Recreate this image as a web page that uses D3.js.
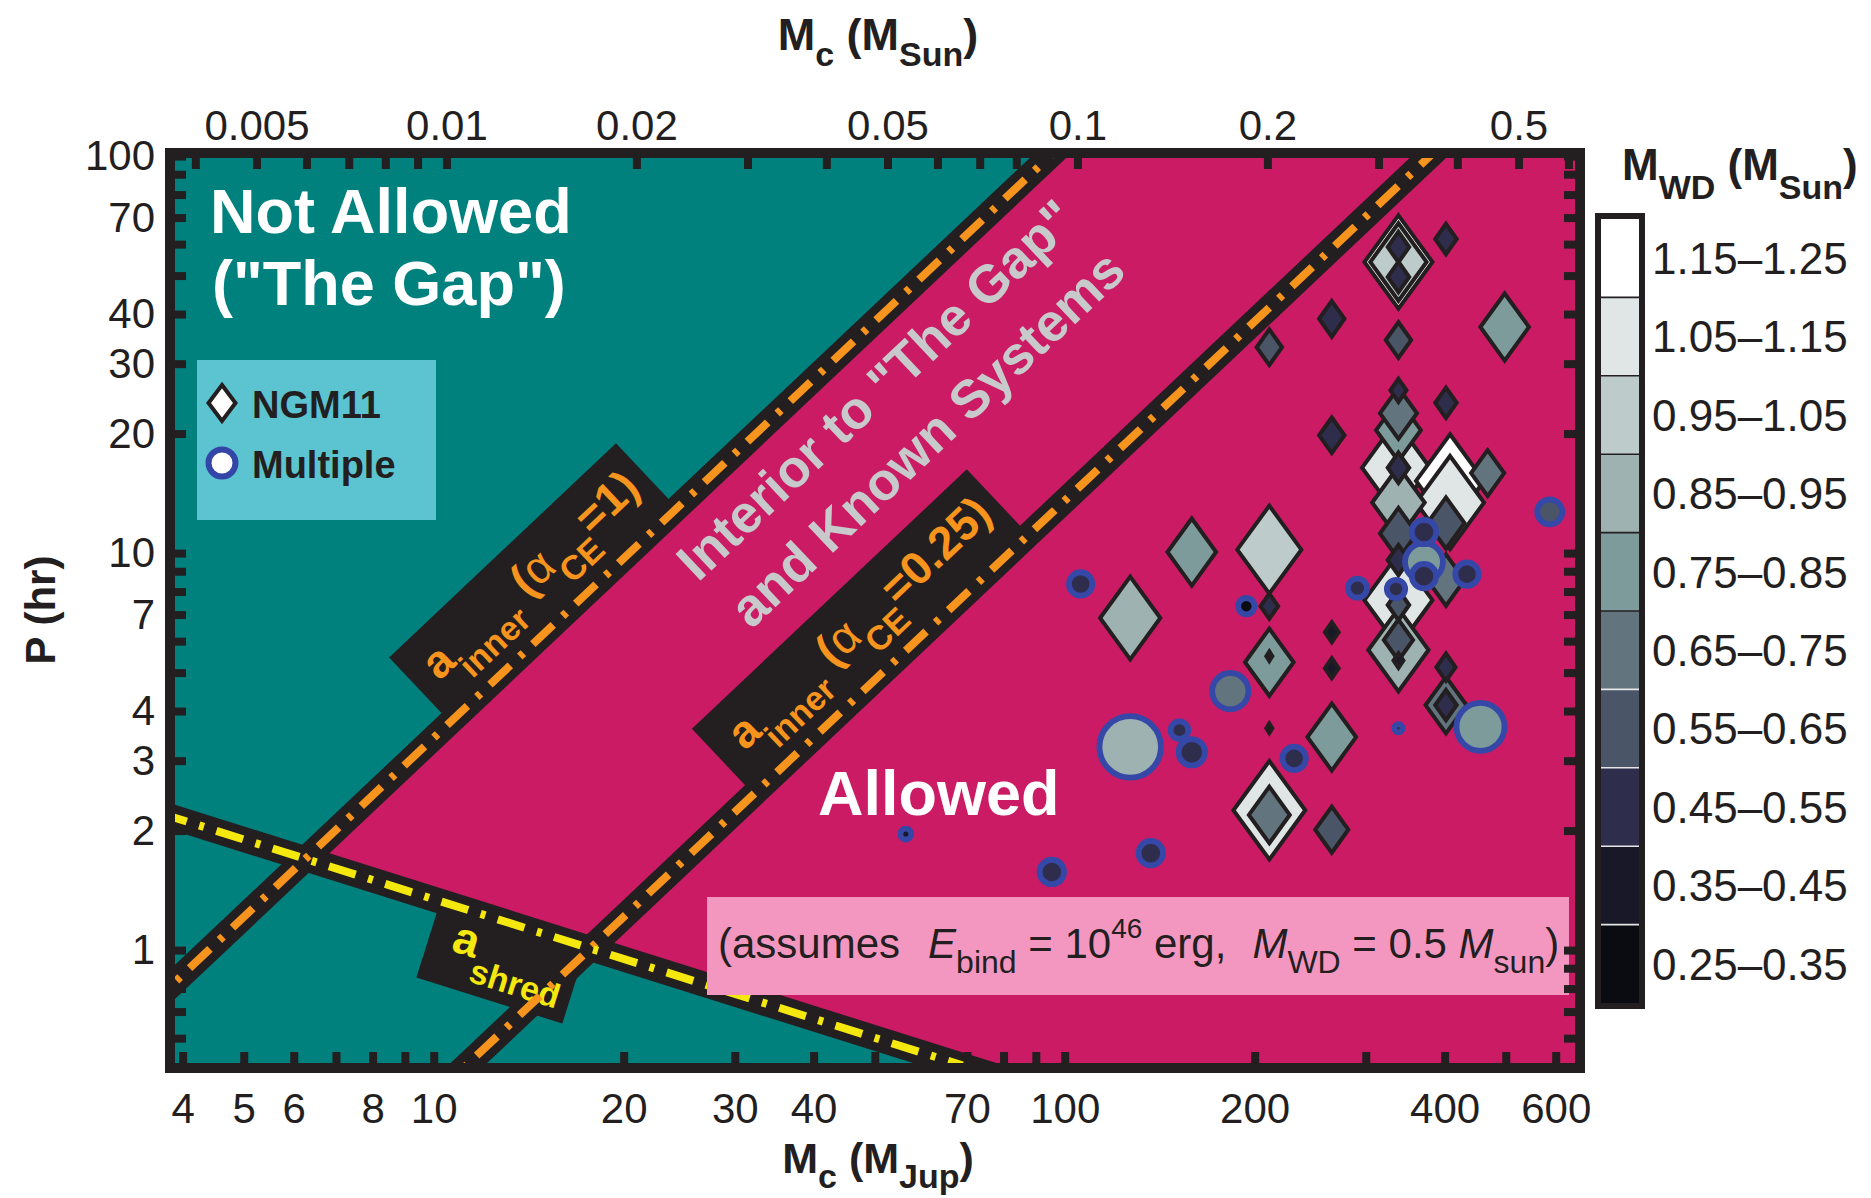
<!DOCTYPE html>
<html><head><meta charset="utf-8">
<script src="https://cdn.jsdelivr.net/npm/d3@7"></script>
<style>
body{margin:0;background:#fff;}
svg{display:block;font-family:"Liberation Sans",Arial,Helvetica,sans-serif;}
</style></head><body>
<svg id="c" width="1871" height="1198"></svg>
<script>
// ---------------- DATA ----------------
const xDomainJup = [3.82, 655.6];           // companion mass, M_Jup
const yDomainHr = [0.5046, 101.8];          // period, hr
const jupPerSun = 1047.57;

const bottomTicks = [4,5,6,7,8,9,10,20,30,40,50,60,70,80,90,100,200,300,400,500,600];
const bottomLabels = [4,5,6,8,10,20,30,40,70,100,200,400,600];
const topTicks = [0.004,0.005,0.006,0.007,0.008,0.009,0.01,0.02,0.03,0.04,0.05,0.06,0.07,0.08,0.09,0.1,0.2,0.3,0.4,0.5,0.6];
const topLabels = [0.005,0.01,0.02,0.05,0.1,0.2,0.5];
const yTicks = [0.6,0.7,0.8,0.9,1,2,3,4,5,6,7,8,9,10,20,30,40,50,60,70,80,90,100];
const yLabels = [1,2,3,4,7,10,20,30,40,70,100];

// white-dwarf mass bins (colour bar), top to bottom
const mwdBinLabels = ["1.15–1.25","1.05–1.15","0.95–1.05","0.85–0.95","0.75–0.85","0.65–0.75","0.55–0.65","0.45–0.55","0.35–0.45","0.25–0.35"];
const mwdBinCenters = [1.2,1.1,1.0,0.9,0.8,0.7,0.6,0.5,0.4,0.3];
const mwdColors = ["#ffffff","#dfe6e5","#bdcccb","#9db2b1","#7c9b9a","#62747e","#4a5568","#2f2d4c","#181829","#0b0b12"];

// boundary lines [M_Jup, P_hr] end points
const aInnerAlpha1   = [[3, 0.563],[120, 142.5]];
const aInnerAlpha025 = [[10, 0.4285],[500, 151.5]];
const aShred         = [[3, 2.452],[90, 0.448]];

// NGM11 systems: [M_c (M_Jup), P (hr), M_WD (M_sun), size]
const ngm11 = [
 [338,54.1,1.2,9],[338,54.1,1.0,7.5],[338,59.0,0.5,3],[338,49.6,0.5,3],[402,61.8,0.5,3],
 [265,38.9,0.5,3.5],[211,33.0,0.6,3.5],[338,34.4,0.6,3.5],[498,37.1,0.8,6.5],
 [338,25.7,0.5,2.3],[402,23.9,0.5,3],[265,19.8,0.5,3.5],[338,22.5,0.7,5],[338,20.4,0.8,6],
 [335,16.4,1.1,9],[338,16.4,0.5,3],[408,15.2,1.2,9],[408,13.4,1.1,9],[468,15.9,0.7,4.5],
 [338,13.4,0.9,7],[402,11.9,0.6,5],[338,11.2,0.6,5],[338,9.6,0.5,3],[402,8.55,0.7,5],
 [338,7.61,1.1,9],[338,7.40,0.6,3],
 [159,10.06,0.8,6.5],[211,10.2,1.0,8.5],[127,6.86,0.9,8],[211,7.35,0.5,2.5],
 [265,6.32,0.4,2],[265,5.13,0.4,2],[211,5.31,0.8,6.5],[211,5.5,0.4,1],[211,3.62,0.4,1],
 [265,3.44,0.8,6.5],[402,5.16,0.5,2.7],[402,4.14,0.7,5.5],[402,4.14,0.5,3],
 [338,5.70,0.9,8],[338,6.04,0.6,4],[338,5.36,0.4,1.5],
 [211,2.25,1.1,9.5],[211,2.19,0.7,5.5],[265,2.01,0.6,4.5]
];
// Multiple systems: [M_c (M_Jup), P (hr), M_WD (M_sun), size]
const multiple = [
 [587,12.7,0.6,3.5],[371,11.3,0.5,3.4],[106,8.36,0.5,3.25],[194,7.35,0.3,2.2],
 [183,4.49,0.7,5.15],[127,3.25,0.9,8.9],[152,3.58,0.5,2.4],[159,3.15,0.5,3.7],
 [231,3.04,0.5,3.25],[338,3.62,0.5,1],[456,3.65,0.8,6.9],[371,9.49,0.8,5.4],
 [371,8.75,0.5,3.4],[434,8.85,0.5,3.25],[291,8.16,0.5,2.6],[335,8.12,0.5,2.5],
 [56,1.96,0.4,1.4],[95.4,1.573,0.5,3.4],[136.9,1.755,0.5,3.4]
];

// ---------------- LAYOUT ----------------
const ink = "#231f20";
const teal = "#00817e", magenta = "#cb1b64", orange = "#f7941d", yellow = "#f4e80f";
const box = {left:170, right:1580, top:153, bottom:1068};
const svg = d3.select("#c");

const x = d3.scaleLog().domain(xDomainJup).range([box.left, box.right]);
const xSun = d3.scaleLog().domain(xDomainJup.map(v => v / jupPerSun)).range([box.left, box.right]);
const y = d3.scaleLog().domain(yDomainHr).range([box.bottom, box.top]);
const color = d3.scaleThreshold().domain([0.35,0.45,0.55,0.65,0.75,0.85,0.95,1.05,1.15]).range(mwdColors.slice().reverse());
const dHalf = d3.scaleLinear().domain([1,9]).range([5,36]);
const cRad = d3.scaleLinear().domain([1,9]).range([7,34]);

const L = Math.log10;
function lineFn(pts){
  const [[m1,p1],[m2,p2]] = pts;
  const k = (L(p2)-L(p1))/(L(m2)-L(m1));
  return {k, b: L(p1) - k*L(m1), f: m => Math.pow(10, L(p1) + k*(L(m)-L(m1)))};
}
const l1 = lineFn(aInnerAlpha1), l2 = lineFn(aInnerAlpha025), ls = lineFn(aShred);
function angleOf(pts){
  const [a,b] = pts;
  return Math.atan2(y(b[1])-y(a[1]), x(b[0])-x(a[0])) * 180/Math.PI;
}

const defs = svg.append("defs");
defs.append("clipPath").attr("id","pc").append("rect")
  .attr("x",box.left+5).attr("y",box.top+5).attr("width",box.right-box.left-10).attr("height",box.bottom-box.top-10);

const plot = svg.append("g").attr("clip-path","url(#pc)");
plot.append("rect").attr("x",box.left).attr("y",box.top).attr("width",box.right-box.left).attr("height",box.bottom-box.top).attr("fill",teal);

// allowed region: below a_inner(alpha=1), above a_shred
const lmI = (ls.b - l1.b)/(l1.k - ls.k);
const inter = [Math.pow(10,lmI), Math.pow(10, l1.b + l1.k*lmI)];
const poly = [inter, aInnerAlpha1[1], [1e4, aInnerAlpha1[1][1]], [1e4, 0.2], aShred[1]];
plot.append("path").attr("d", d3.line().x(d=>x(d[0])).y(d=>y(d[1]))(poly)+"Z").attr("fill", magenta);

const lineGen = d3.line().x(d=>x(d[0])).y(d=>y(d[1]));
const lines = [
  {pts:aInnerAlpha1, col:orange},
  {pts:aInnerAlpha025, col:orange},
  {pts:aShred, col:yellow}
];
plot.selectAll("path.band").data(lines).join("path").attr("class","band")
  .attr("d", d=>lineGen(d.pts)).attr("stroke", ink).attr("stroke-width", 25).attr("fill","none");

// label boxes
function labelGroup(fn, pts, m0){
  const a = angleOf(pts);
  return plot.append("g").attr("transform", `translate(${x(m0)},${y(fn.f(m0))}) rotate(${a})`);
}
const g1 = labelGroup(l1, aInnerAlpha1, 10.26);
const g2 = labelGroup(l2, aInnerAlpha025, 31.3);
const g3 = labelGroup(ls, aShred, 10.07);
g1.append("rect").attr("x",13).attr("y",-89).attr("width",312).attr("height",89).attr("fill",ink);
g2.append("rect").attr("x",10).attr("y",-90).attr("width",378).attr("height",90).attr("fill",ink);
g3.append("rect").attr("x",5).attr("y",0).attr("width",153).attr("height",80).attr("fill",ink);

plot.selectAll("path.dash").data(lines).join("path").attr("class","dash")
  .attr("d", d=>lineGen(d.pts)).attr("stroke", d=>d.col).attr("stroke-width", 8)
  .attr("stroke-dasharray","28,13,5,13").attr("fill","none");

function innerLabel(g, val){
  const t = g.append("text").attr("x",33).attr("y",-37).attr("fill",orange)
    .attr("font-weight","bold").attr("font-size",46);
  t.append("tspan").text("a");
  t.append("tspan").attr("font-size",34).attr("dy",21).text("inner");
  t.append("tspan").attr("dy",-21).text(" (");
  t.append("tspan").attr("font-weight","normal").text("α");
  t.append("tspan").attr("font-size",34).attr("dy",21).text("CE");
  t.append("tspan").attr("dy",-21).text("="+val+")");
}
innerLabel(g1,"1");
innerLabel(g2,"0.25");
{
  const t = g3.append("text").attr("x",29).attr("y",44).attr("fill",yellow).attr("font-weight","bold").attr("font-size",46);
  t.append("tspan").text("a");
  t.append("tspan").attr("font-size",34).attr("dy",24).text("shred");
}

// region annotations
const a1 = angleOf(aInnerAlpha1);
const interior = plot.append("g").attr("fill","#c8c9cb").attr("font-weight","bold").attr("font-size",53).attr("text-anchor","middle");
interior.append("text").attr("transform",`translate(${x(52.6)},${y(23.87)}) rotate(${a1})`).text('Interior to "The Gap"');
interior.append("text").attr("transform",`translate(${x(63.4)},${y(17.97)}) rotate(${a1})`).text("and Known Systems");

const white = plot.append("g").attr("fill","#fff").attr("font-weight","bold").attr("font-size",63);
white.append("text").attr("x",box.left+40).attr("y",box.top+80).text("Not Allowed");
white.append("text").attr("x",box.left+42).attr("y",box.top+152).text('("The Gap")');
white.append("text").attr("x",box.left+648).attr("y",box.top+662).text("Allowed");

// legend
const lg = plot.append("g");
lg.append("rect").attr("x",box.left+27).attr("y",box.top+207).attr("width",239).attr("height",160).attr("fill","#5bc4d0");
lg.append("path").attr("d",`M${box.left+52},${box.top+250-18} l13.5,18 l-13.5,18 l-13.5,-18 Z`).attr("fill","#fff").attr("stroke",ink).attr("stroke-width",4);
lg.append("circle").attr("cx",box.left+52).attr("cy",box.top+310).attr("r",13.5).attr("fill","#fff").attr("stroke","#3346a7").attr("stroke-width",6);
lg.append("text").attr("x",box.left+82).attr("y",box.top+265).attr("font-weight","bold").attr("font-size",38).attr("fill",ink).text("NGM11");
lg.append("text").attr("x",box.left+82).attr("y",box.top+325).attr("font-weight","bold").attr("font-size",38).attr("fill",ink).text("Multiple");

// assumption box
const ab = plot.append("g");
ab.append("rect").attr("x",707).attr("y",897).attr("width",862).attr("height",98).attr("fill","#f497c0");
{
  const t = ab.append("text").attr("x",718).attr("y",958).attr("font-size",42).attr("fill",ink);
  t.append("tspan").text("(assumes");
  t.append("tspan").attr("dx",28).attr("font-style","italic").text("E");
  t.append("tspan").attr("font-size",32).attr("dy",15).text("bind");
  t.append("tspan").attr("dy",-15).text(" = 10");
  t.append("tspan").attr("font-size",28).attr("dy",-20).text("46");
  t.append("tspan").attr("dy",20).text(" erg,");
  t.append("tspan").attr("dx",26).attr("font-style","italic").text("M");
  t.append("tspan").attr("font-size",32).attr("dy",15).text("WD");
  t.append("tspan").attr("dy",-15).text(" = 0.5 ");
  t.append("tspan").attr("font-style","italic").text("M");
  t.append("tspan").attr("font-size",32).attr("dy",15).text("sun");
  t.append("tspan").attr("dy",-15).text(")");
}

// markers
const diamonds = ngm11.map(d=>({m:d[0],p:d[1],w:d[2],s:d[3]})).sort((a,b)=>b.s-a.s);
plot.selectAll("path.ngm").data(diamonds).join("path").attr("class","ngm")
  .attr("transform", d=>`translate(${x(d.m)},${y(d.p)})`)
  .attr("d", d=>{ const hw=dHalf(d.s)-2, hh=dHalf(d.s)*1.35-2; return `M0,${-hh}L${hw},0L0,${hh}L${-hw},0Z`; })
  .attr("fill", d=>color(d.w)).attr("stroke", ink).attr("stroke-width",4).attr("stroke-linejoin","miter");
const circles = multiple.map(d=>({m:d[0],p:d[1],w:d[2],s:d[3]})).sort((a,b)=>b.s-a.s);
plot.selectAll("circle.mult").data(circles).join("circle").attr("class","mult")
  .attr("cx", d=>x(d.m)).attr("cy", d=>y(d.p)).attr("r", d=>cRad(d.s)-2.9)
  .attr("fill", d=>color(d.w)).attr("stroke","#3548a8").attr("stroke-width",5.8);

// ---------------- AXES ----------------
function styleAxis(g){
  g.select(".domain").remove();
  g.selectAll(".tick line").attr("stroke",ink).attr("stroke-width",8);
  g.selectAll(".tick text").attr("fill",ink).attr("font-size",42).attr("font-family","Liberation Sans, Arial, sans-serif");
}
svg.append("g").attr("transform",`translate(0,${box.bottom})`)
  .call(d3.axisBottom(x).tickValues(bottomTicks).tickSizeInner(-16).tickSizeOuter(0).tickPadding(25)
    .tickFormat(d=>bottomLabels.includes(d)?d:"")).call(styleAxis);
svg.append("g").attr("transform",`translate(0,${box.top})`)
  .call(d3.axisTop(xSun).tickValues(topTicks).tickSizeInner(-16).tickSizeOuter(0).tickPadding(13)
    .tickFormat(d=>topLabels.includes(d)?d:"")).call(styleAxis);
svg.append("g").attr("transform",`translate(${box.left},0)`)
  .call(d3.axisLeft(y).tickValues(yTicks).tickSizeInner(-16).tickSizeOuter(0).tickPadding(15)
    .tickFormat(d=>yLabels.includes(d)?d:"")).call(styleAxis);
svg.append("g").attr("transform",`translate(${box.right},0)`)
  .call(d3.axisRight(y).tickValues(yTicks).tickSizeInner(-16).tickSizeOuter(0).tickFormat(()=>"")).call(styleAxis);

svg.append("rect").attr("x",box.left).attr("y",box.top).attr("width",box.right-box.left).attr("height",box.bottom-box.top)
  .attr("fill","none").attr("stroke",ink).attr("stroke-width",10);

// axis titles
function subTitle(parent, xx, yy, main, sub, main2, sub2, anchor, size, subSize, drop){
  const t = parent.append("text").attr("x",xx).attr("y",yy).attr("font-weight","bold").attr("font-size",size)
    .attr("fill",ink).attr("text-anchor",anchor);
  t.append("tspan").text(main);
  t.append("tspan").attr("font-size",subSize).attr("dy",drop).text(sub);
  t.append("tspan").attr("dy",-drop).text(main2);
  t.append("tspan").attr("font-size",subSize).attr("dy",drop).text(sub2);
  t.append("tspan").attr("dy",-drop).text(")");
  return t;
}
subTitle(svg, 878, 1173, "M", "c", " (M", "Jup", "middle", 43, 34, 15);
subTitle(svg, 878, 50, "M", "c", " (M", "Sun", "middle", 45, 34, 16);
svg.append("text").attr("transform","translate(55,610) rotate(-90)").attr("text-anchor","middle")
  .attr("font-weight","bold").attr("font-size",42).attr("fill",ink).text("P (hr)");

// ---------------- COLOUR BAR ----------------
const cb = svg.append("g");
const band = d3.scaleBand().domain(mwdBinLabels).range([219,1003]);
cb.selectAll("rect.cell").data(mwdBinLabels).join("rect").attr("class","cell")
  .attr("x",1601).attr("y",d=>band(d)).attr("width",39).attr("height",band.bandwidth()+0.5)
  .attr("fill",(d,i)=>mwdColors[i]);
cb.selectAll("line.sep").data(mwdBinLabels.slice(1)).join("line").attr("class","sep")
  .attr("x1",1599).attr("x2",1642).attr("y1",d=>band(d)).attr("y2",d=>band(d))
  .attr("stroke",(d,i)=> i>=5 ? "#e6e6e6" : ink).attr("stroke-width",1.6);
cb.append("rect").attr("x",1598).attr("y",216).attr("width",44).attr("height",790)
  .attr("fill","none").attr("stroke",ink).attr("stroke-width",6);
cb.selectAll("text.lab").data(mwdBinLabels).join("text").attr("class","lab")
  .attr("x",1652).attr("y",d=>band(d)+band.bandwidth()/2).attr("dy","0.36em")
  .attr("font-size",44).attr("fill",ink).text(d=>d);
subTitle(svg, 1622, 180, "M", "WD", " (M", "Sun", "start", 44, 34, 19);
</script>
</body></html>
